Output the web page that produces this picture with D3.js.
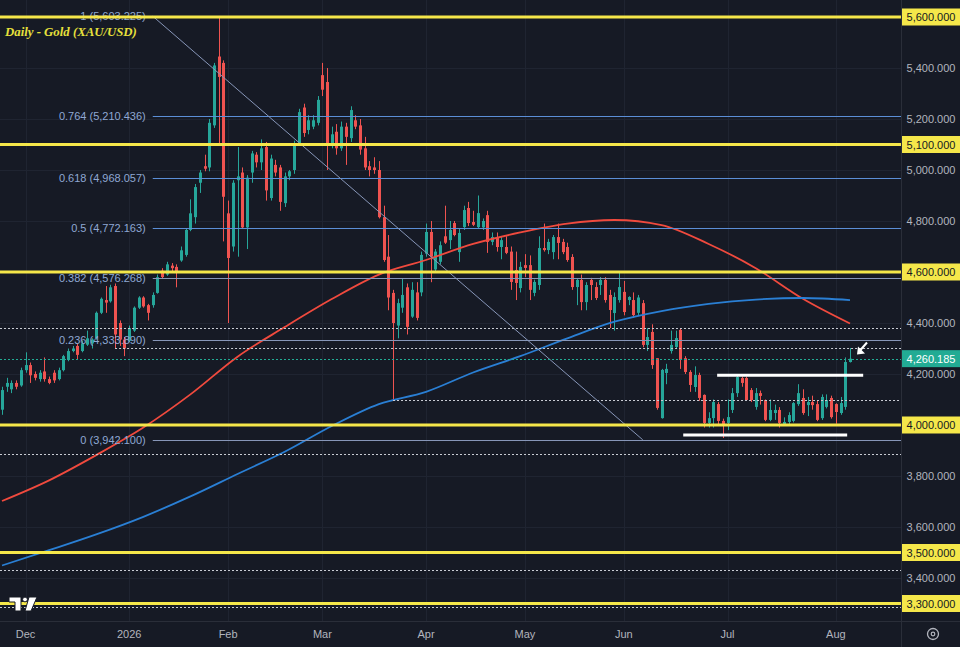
<!doctype html>
<meta charset="utf-8" />
<script src="https://cdn.jsdelivr.net/npm/d3@7/dist/d3.min.js"></script>
<style>
    body {
        margin: 0;
        background: #161a25;
    }

    svg {
        display: block
    }

    text {
        font-family: "Liberation Sans", Arial, sans-serif;
    }
</style>
<svg id="chart"></svg>
<script>
    // daily candles, [open, high, low, close]
    var candles = [
        [4060, 4150, 4040, 4137], [4150, 4185, 4130, 4165], [4140, 4175, 4125, 4165], [4165, 4175, 4140, 4150],
        [4155, 4225, 4150, 4215], [4215, 4285, 4205, 4235], [4235, 4245, 4165, 4195], [4200, 4210, 4175, 4185],
        [4180, 4215, 4170, 4205], [4210, 4265, 4170, 4180], [4180, 4190, 4160, 4165], [4205, 4215, 4165, 4175],
        [4180, 4225, 4175, 4215], [4215, 4275, 4210, 4270], [4255, 4300, 4250, 4290], [4290, 4310, 4285, 4300],
        [4310, 4320, 4255, 4275], [4290, 4330, 4285, 4320], [4315, 4370, 4310, 4340], [4320, 4340, 4300, 4335],
        [4340, 4445, 4335, 4440], [4440, 4500, 4435, 4495], [4490, 4545, 4440, 4480], [4485, 4550, 4480, 4540],
        [4545, 4555, 4300, 4355], [4400, 4410, 4310, 4335], [4335, 4345, 4270, 4300], [4330, 4390, 4325, 4380],
        [4370, 4465, 4365, 4460], [4460, 4505, 4455, 4500], [4500, 4505, 4460, 4465], [4470, 4475, 4410, 4440],
        [4470, 4520, 4460, 4510], [4518, 4590, 4515, 4580], [4605, 4615, 4575, 4580], [4590, 4640, 4585, 4630],
        [4625, 4635, 4600, 4615], [4620, 4630, 4540, 4600], [4645, 4700, 4640, 4685], [4667, 4770, 4660, 4765],
        [4765, 4885, 4760, 4830], [4815, 4945, 4790, 4933], [4950, 5000, 4910, 4990], [5015, 5060, 4995, 5005],
        [5010, 5200, 4995, 5185], [5175, 5420, 5165, 5410], [5445, 5603, 5105, 5365], [5420, 5430, 4720, 4895],
        [4830, 4880, 4400, 4655], [4700, 4960, 4680, 4950], [4960, 5090, 4660, 4975], [4990, 5010, 4770, 4775],
        [4775, 4980, 4690, 4970], [4990, 5075, 4950, 5065], [5060, 5070, 5010, 5030], [5030, 5120, 5000, 5085],
        [5090, 5110, 4880, 4920], [4890, 5060, 4880, 5045], [5020, 5040, 4975, 4990], [5010, 5020, 4840, 4875],
        [4870, 4990, 4855, 4975], [4975, 5000, 4960, 4995], [5000, 5115, 4985, 5100], [5105, 5240, 5095, 5227],
        [5245, 5260, 5130, 5145], [5157, 5215, 5140, 5195], [5170, 5215, 5160, 5195], [5185, 5290, 5175, 5275],
        [5372, 5420, 5290, 5315], [5345, 5400, 5000, 5105], [5100, 5170, 5085, 5140], [5150, 5180, 5060, 5085],
        [5085, 5190, 5075, 5170], [5170, 5185, 5020, 5130], [5125, 5250, 5110, 5235], [5195, 5215, 5160, 5170],
        [5175, 5200, 5060, 5080], [5085, 5130, 5000, 5010], [5015, 5035, 4975, 5000], [5010, 5050, 4985, 5000],
        [5000, 5035, 4810, 4815], [4815, 4860, 4640, 4647], [4660, 4745, 4450, 4500], [4518, 4530, 4098, 4400],
        [4390, 4495, 4340, 4478], [4460, 4575, 4440, 4510], [4540, 4555, 4355, 4385], [4425, 4560, 4420, 4530],
        [4520, 4560, 4410, 4420], [4520, 4680, 4505, 4667], [4672, 4790, 4660, 4757], [4757, 4800, 4560, 4660],
        [4610, 4690, 4600, 4680], [4640, 4720, 4630, 4705], [4740, 4860, 4710, 4715], [4725, 4800, 4690, 4765],
        [4792, 4800, 4740, 4745], [4678, 4770, 4640, 4753], [4776, 4860, 4765, 4843], [4851, 4875, 4780, 4792],
        [4796, 4840, 4780, 4785], [4776, 4900, 4770, 4831], [4775, 4810, 4765, 4800], [4823, 4840, 4675, 4718],
        [4718, 4755, 4705, 4737], [4737, 4755, 4680, 4698], [4698, 4740, 4650, 4725], [4698, 4740, 4670, 4675],
        [4680, 4700, 4530, 4561], [4608, 4680, 4490, 4557], [4537, 4640, 4520, 4620], [4627, 4670, 4580, 4616],
        [4627, 4665, 4490, 4530], [4518, 4570, 4505, 4561], [4549, 4740, 4530, 4694], [4694, 4790, 4680, 4686],
        [4686, 4730, 4670, 4718], [4678, 4745, 4650, 4737], [4737, 4790, 4650, 4714], [4718, 4730, 4670, 4678],
        [4698, 4715, 4640, 4647], [4659, 4670, 4530, 4541], [4541, 4575, 4470, 4569], [4569, 4590, 4450, 4482],
        [4482, 4560, 4450, 4549], [4569, 4577, 4490, 4549], [4541, 4560, 4490, 4498], [4549, 4580, 4510, 4569],
        [4569, 4580, 4480, 4490], [4510, 4530, 4380, 4451], [4439, 4520, 4370, 4502], [4490, 4600, 4480, 4541],
        [4522, 4565, 4430, 4443], [4490, 4505, 4470, 4502], [4490, 4520, 4420, 4431], [4440, 4510, 4427, 4500],
        [4478, 4490, 4305, 4314], [4314, 4380, 4290, 4345], [4365, 4395, 4220, 4235], [4262, 4262, 4060, 4067],
        [4027, 4220, 4025, 4216], [4204, 4240, 4160, 4220], [4290, 4370, 4280, 4314], [4306, 4370, 4300, 4341],
        [4373, 4380, 4220, 4255], [4262, 4270, 4200, 4208], [4208, 4215, 4130, 4157], [4149, 4230, 4130, 4196],
        [4196, 4205, 4095, 4106], [4118, 4120, 3990, 4008], [4008, 4050, 3990, 4027], [4027, 4100, 3990, 4090],
        [4082, 4090, 4000, 4016], [4016, 4025, 3949, 4004], [4008, 4100, 3980, 4031], [4059, 4145, 4047, 4125],
        [4125, 4195, 4110, 4188], [4184, 4190, 4150, 4165], [4184, 4190, 4095, 4098], [4137, 4145, 4090, 4098],
        [4071, 4145, 4060, 4125], [4125, 4135, 4080, 4114], [4098, 4100, 4015, 4020], [4020, 4100, 4015, 4059],
        [4047, 4080, 4020, 4059], [4059, 4070, 3990, 4008], [4000, 4030, 4000, 4012], [4012, 4050, 4000, 4039],
        [4016, 4090, 4010, 4086], [4082, 4160, 4075, 4125], [4106, 4140, 4040, 4047], [4078, 4110, 4035, 4090],
        [4090, 4115, 4060, 4078], [4082, 4095, 4015, 4020], [4027, 4120, 4020, 4110], [4071, 4120, 4065, 4098],
        [4106, 4115, 4025, 4031], [4082, 4085, 4005, 4051], [4047, 4110, 4040, 4086], [4071, 4265, 4060, 4247],
        [4247, 4302, 4245, 4260]
    ];

    var startDate = '2025-11-24';
    var holidays = ['2025-12-25', '2026-01-01', '2026-04-03'];

    // moving averages every 10 bars
    var maIndex = [0, 10, 20, 30, 40, 50, 60, 70, 80, 90, 100, 110, 120, 130, 140, 150, 160, 170, 180];
    var maRed = [3702, 3783, 3882, 3990, 4120, 4268, 4384, 4494, 4590, 4647, 4710, 4755, 4790, 4804, 4784, 4710, 4615, 4495, 4398];
    var maBlue = [3449, 3509, 3571, 3640, 3720, 3808, 3895, 3996, 4082, 4130, 4206, 4270, 4340, 4405, 4447, 4475, 4492, 4498, 4490];

    var fibRatios = ['1', '0.764', '0.618', '0.5', '0.382', '0.236', '0'];
    var fibPrices = [5603.225, 5210.436, 4968.057, 4772.163, 4576.268, 4333.890, 3942.100];
    var fibFrom = 32, fibTo = 136;

    var yellowLevels = [5600, 5100, 4600, 4000, 3500, 3300];
    var dottedLevels = [4380, 4302, 4098, 3886, 3431, 3286];
    var dottedFrom = [0, 24, 83, 0, 0, 0];
    var lastPrice = 4260.185;

    var whiteLevels = [4195, 3961];
    var whiteFrom = [151.8, 144.6];
    var whiteTo = [182.8, 179.4];

    var priceTicks = d3.range(3400, 5401, 200);

    var W = 960, H = 647, plotW = 901, plotH = 621;
    var green = '#26a69a', red = '#ef5350', yellow = '#f5e74a', teal = '#22ab94';

    // trading dates: weekdays minus a few holidays
    var fmt = d3.utcFormat('%Y-%m-%d');
    var dates = [];
    var d = d3.utcParse('%Y-%m-%d')(startDate);
    while (dates.length < candles.length) {
        var wd = d.getUTCDay();
        if (wd != 0 && wd != 6 && holidays.indexOf(fmt(d)) < 0) dates.push(d);
        d = d3.utcDay.offset(d, 1);
    }
    var monthTicks = [];
    dates.forEach(function (dt, i) {
        if (i > 0 && dt.getUTCMonth() != dates[i - 1].getUTCMonth()) monthTicks.push(i);
    });

    var x = d3.scaleLinear().domain([0, candles.length - 1]).range([2, 850]);
    var y = d3.scaleLinear().domain([4000, 5600]).range([425, 17]);
    var num = d3.format(',.3f');

    var svg = d3.select('#chart').attr('width', W).attr('height', H);
    svg.append('rect').attr('width', W).attr('height', H).attr('fill', '#161a25');

    svg.append('clipPath').attr('id', 'plot')
        .append('rect').attr('width', plotW).attr('height', plotH);
    var g = svg.append('g').attr('clip-path', 'url(#plot)');

    // grid
    g.selectAll('.hgrid').data(priceTicks).enter().append('line')
        .attr('x1', 0).attr('x2', plotW)
        .attr('y1', d => y(d) + 0.5).attr('y2', d => y(d) + 0.5)
        .attr('stroke', '#1f2431');
    g.selectAll('.vgrid').data(monthTicks).enter().append('line')
        .attr('y1', 0).attr('y2', plotH)
        .attr('x1', d => Math.round(x(d)) + 0.5).attr('x2', d => Math.round(x(d)) + 0.5)
        .attr('stroke', '#1f2431');

    // candles
    var c = g.selectAll('.candle').data(candles).enter().append('g');
    c.append('line')
        .attr('x1', (d, i) => Math.round(x(i)) + 0.5).attr('x2', (d, i) => Math.round(x(i)) + 0.5)
        .attr('y1', d => y(d[1])).attr('y2', d => y(d[2]))
        .attr('stroke', d => d[3] >= d[0] ? green : red);
    c.append('rect')
        .attr('x', (d, i) => Math.round(x(i)) - 1)
        .attr('width', 3)
        .attr('y', d => y(Math.max(d[0], d[3])))
        .attr('height', d => Math.max(1, Math.abs(y(d[0]) - y(d[3]))))
        .attr('fill', d => d[3] >= d[0] ? green : red);

    // moving averages
    var ma = d3.line().x((d, i) => x(maIndex[i])).y(d => y(d)).curve(d3.curveMonotoneX);
    g.append('path').datum(maRed).attr('d', ma)
        .attr('fill', 'none').attr('stroke', '#f04a3e').attr('stroke-width', 1.8);
    g.append('path').datum(maBlue).attr('d', ma)
        .attr('fill', 'none').attr('stroke', '#2a7fd4').attr('stroke-width', 1.8);

    // fib retracement
    var fibCol = (d, i) => (i >= 1 && i <= 3) ? '#5b8ed6' : '#8796b8';
    g.selectAll('.fib').data(fibPrices).enter().append('line')
        .attr('x1', x(fibFrom)).attr('x2', plotW)
        .attr('y1', d => Math.round(y(d)) + 0.5).attr('y2', d => Math.round(y(d)) + 0.5)
        .attr('stroke', fibCol);
    g.append('line')
        .attr('x1', x(fibFrom)).attr('y1', y(fibPrices[0]))
        .attr('x2', x(fibTo)).attr('y2', y(fibPrices[6]))
        .attr('stroke', '#8796b8').attr('stroke-width', 1);
    g.selectAll('.fibtxt').data(fibPrices).enter().append('text')
        .attr('x', x(fibFrom) - 7).attr('y', d => y(d) + 4)
        .attr('text-anchor', 'end').attr('font-size', 11)
        .attr('fill', '#8fa8d3')
        .text((d, i) => fibRatios[i] + ' (' + num(d) + ')');

    // dotted rays
    g.selectAll('.dot').data(dottedLevels).enter().append('line')
        .attr('x1', (d, i) => dottedFrom[i] ? x(dottedFrom[i]) : 0).attr('x2', plotW)
        .attr('y1', d => Math.round(y(d)) + 0.5).attr('y2', d => Math.round(y(d)) + 0.5)
        .attr('stroke', '#c9ccd4').attr('stroke-dasharray', '2,2');
    g.append('line')
        .attr('x1', 0).attr('x2', plotW)
        .attr('y1', Math.round(y(lastPrice)) + 0.5).attr('y2', Math.round(y(lastPrice)) + 0.5)
        .attr('stroke', teal).attr('stroke-dasharray', '2,2');

    // yellow levels
    g.selectAll('.yl').data(yellowLevels).enter().append('line')
        .attr('x1', 0).attr('x2', plotW)
        .attr('y1', d => y(d)).attr('y2', d => y(d))
        .attr('stroke', yellow).attr('stroke-width', 3);

    // white range lines
    g.selectAll('.wl').data(whiteLevels).enter().append('line')
        .attr('x1', (d, i) => x(whiteFrom[i])).attr('x2', (d, i) => x(whiteTo[i]))
        .attr('y1', d => y(d)).attr('y2', d => y(d))
        .attr('stroke', '#ffffff').attr('stroke-width', 3);

    // arrow pointing at last bar
    var ax = x(candles.length - 1) + 7, ay = y(4300) + 6;
    g.append('path')
        .attr('d', 'M' + (ax + 10) + ',' + (ay - 12) + 'L' + (ax + 3) + ',' + (ay - 4))
        .attr('stroke', '#fff').attr('stroke-width', 2);
    g.append('path')
        .attr('d', 'M' + ax + ',' + ay + 'l1,-8l7,7z')
        .attr('fill', '#fff');

    // title
    svg.append('text').attr('x', 5).attr('y', 36)
        .style('font-family', '"Liberation Serif", "DejaVu Serif", serif')
        .style('font-style', 'italic').style('font-weight', 'bold')
        .style('font-size', '12.8px').attr('fill', '#e7e03c')
        .text('Daily - Gold (XAU/USD)');

    // axes frame
    svg.append('line').attr('x1', plotW + 0.5).attr('x2', plotW + 0.5).attr('y1', 0).attr('y2', H)
        .attr('stroke', '#2a2e39');
    svg.append('line').attr('x1', 0).attr('x2', W).attr('y1', plotH + 0.5).attr('y2', plotH + 0.5)
        .attr('stroke', '#2a2e39');

    // price axis
    svg.selectAll('.ptick').data(priceTicks).enter().append('text')
        .attr('x', 931).attr('y', d => y(d) + 4)
        .attr('text-anchor', 'middle').attr('font-size', 11)
        .attr('fill', '#b2b5be')
        .text(d => num(d));
    var boxes = yellowLevels.map(v => ({ v: v, bg: yellow, fg: '#131722' }));
    boxes.push({ v: lastPrice, bg: teal, fg: '#ffffff' });
    var b = svg.selectAll('.box').data(boxes).enter().append('g');
    b.append('rect').attr('x', plotW + 1).attr('width', W - plotW - 1)
        .attr('y', d => y(d.v) - 8.5).attr('height', 17)
        .attr('fill', d => d.bg);
    b.append('text').attr('x', 931).attr('y', d => y(d.v) + 4)
        .attr('text-anchor', 'middle').attr('font-size', 11)
        .attr('fill', d => d.fg)
        .text(d => num(d.v));

    // time axis
    svg.selectAll('.ttick').data(monthTicks).enter().append('text')
        .attr('x', d => x(d)).attr('y', 638)
        .attr('text-anchor', 'middle').attr('font-size', 11)
        .attr('fill', '#b2b5be')
        .text(d => dates[d].getUTCMonth() == 0 ? d3.utcFormat('%Y')(dates[d]) : d3.utcFormat('%b')(dates[d]));

    // settings icon
    svg.append('circle').attr('cx', 933).attr('cy', 634).attr('r', 5.5)
        .attr('fill', 'none').attr('stroke', '#b2b5be').attr('stroke-width', 1.3);
    svg.append('circle').attr('cx', 933).attr('cy', 634).attr('r', 1.8)
        .attr('fill', 'none').attr('stroke', '#b2b5be').attr('stroke-width', 1.2);

    // logo
    var logo = svg.append('g').attr('fill', '#ffffff').attr('stroke', '#161a25').attr('stroke-width', 1);
    logo.append('path').attr('d', 'M9,597H21V611H15V602H9Z');
    logo.append('circle').attr('cx', 25).attr('cy', 599.5).attr('r', 2.4);
    logo.append('path').attr('d', 'M29,597H37L31,611H25Z');
</script>
